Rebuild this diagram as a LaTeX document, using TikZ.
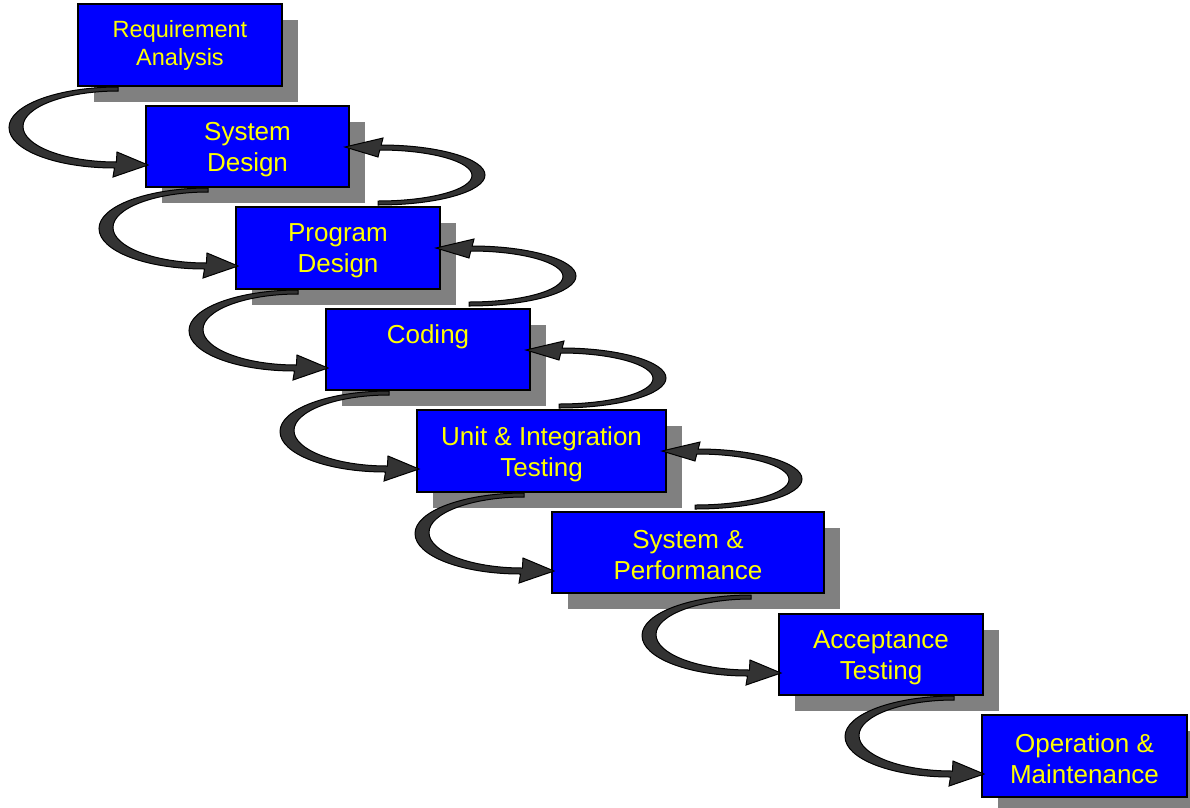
\documentclass[tikz,border=0pt]{standalone}
\usepackage{fontspec}
\setmainfont{Liberation Sans}
\usetikzlibrary{calc,shadows}
\definecolor{boxblue}{HTML}{0000FF}
\definecolor{txtyellow}{HTML}{FFFF00}
\definecolor{shade}{HTML}{808080}
\definecolor{loopfill}{HTML}{333333}

\tikzset{
  stage/.style={draw=black, line width=2pt, fill=boxblue, outer sep=0pt, inner sep=0pt,
    drop shadow={shadow xshift=16pt, shadow yshift=-16pt, fill=shade, opacity=1}},
  stagetext/.style={text=txtyellow, align=center, inner sep=0pt,
    font=\fontsize{26}{31}\selectfont},
  loopshape/.style={fill=loopfill, draw=black, line width=1pt, line join=miter},
  % forward loop: tail under the upper box, curls left, arrow into the next box
  leftloop/.pic={
    \filldraw[loopshape]
      (-30,-78) .. controls (-90,-78) and (-139,-60) .. (-139,-37.5)
      .. controls (-139,-15) and (-92,3) .. (-33.5,3)
      -- (-35,12) -- (0,0) -- (-31,-13) -- (-31.6,-3)
      .. controls (-83,-3) and (-125,-19) .. (-125,-38.5)
      .. controls (-125,-58) and (-82.5,-74) .. (-30,-74) -- cycle;
  },
  % feedback loop: tail above the lower box, curls right, arrow back into the upper box
  rightloop/.pic={
    \filldraw[loopshape]
      (36.2,-2) .. controls (92,-2) and (140,11.4) .. (140,28)
      .. controls (140,44.6) and (92,58) .. (33,58)
      -- (33,54)
      .. controls (85,54) and (127,42.6) .. (127,28.5)
      .. controls (127,14.4) and (85,3) .. (34.8,3)
      -- (33,10) -- (0,0) -- (38,-9) -- cycle;
  }
}

\begin{document}
\begin{tikzpicture}[x=1pt,y=-1pt]
  \useasboundingbox[fill=white] (0,0) rectangle (1190,807);

  % stages
  \node[stage, minimum width=204pt, minimum height=82pt] (b1) at (180,45) {};
  \node[stage, minimum width=203pt, minimum height=81pt] (b2) at (247.5,146.5) {};
  \node[stage, minimum width=204pt, minimum height=82pt] (b3) at (338,248) {};
  \node[stage, minimum width=204pt, minimum height=81pt] (b4) at (428,349.5) {};
  \node[stage, minimum width=249pt, minimum height=82pt] (b5) at (541.5,451) {};
  \node[stage, minimum width=272pt, minimum height=81pt] (b6) at (688,552.5) {};
  \node[stage, minimum width=204pt, minimum height=81pt] (b7) at (881,654.5) {};
  \node[stage, minimum width=205pt, minimum height=82pt] (b8) at (1084.5,756) {};

  % forward loops
  \pic at ($(b2.north west)+(2,59)$) {leftloop};
  \pic at ($(b3.north west)+(2,59)$) {leftloop};
  \pic at ($(b4.north west)+(2,59)$) {leftloop};
  \pic at ($(b5.north west)+(2,59)$) {leftloop};
  \pic at ($(b6.north west)+(2,59)$) {leftloop};
  \pic at ($(b7.north west)+(2,59)$) {leftloop};
  \pic at ($(b8.north west)+(2,59)$) {leftloop};

  % feedback loops
  \pic at ($(b2.north east)+(-4,41)$) {rightloop};
  \pic at ($(b3.north east)+(-4,41)$) {rightloop};
  \pic at ($(b4.north east)+(-4,41)$) {rightloop};
  \pic at ($(b5.north east)+(-4,41)$) {rightloop};

  % stage labels
  \node[stagetext, font=\fontsize{23.5}{28}\selectfont] (t1) at (b1.center) {Requirement\\Analysis};
  \node[stagetext] (t2) at ($(b2.center)+(0,3)$) {System\\Design};
  \node[stagetext] (t3) at ($(b3.center)+(0,3)$) {Program\\Design};
  \node[stagetext] (t4) at ($(b4.north)+(0,28)$) {Coding};
  \node[stagetext] (t5) at ($(b5.center)+(0,3)$) {Unit \& Integration\\Testing};
  \node[stagetext] (t6) at ($(b6.center)+(0,3)$) {System \&\\Performance};
  \node[stagetext] (t7) at ($(b7.center)+(0,3)$) {Acceptance\\Testing};
  \node[stagetext] (t8) at ($(b8.center)+(0,3)$) {Operation \&\\Maintenance};
\end{tikzpicture}
\end{document}
